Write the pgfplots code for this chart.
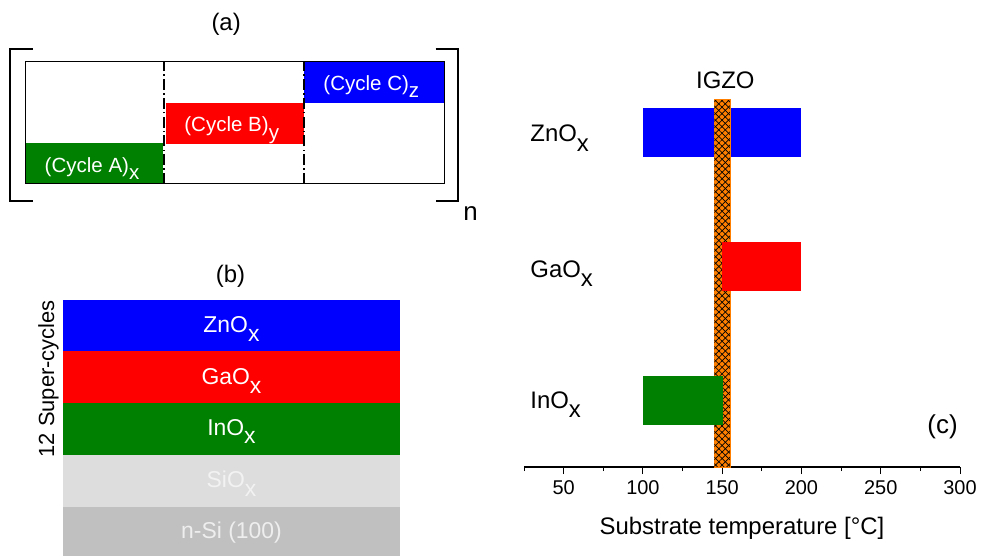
\documentclass[border=0pt]{standalone}
\usepackage{fontspec}
\setmainfont{Liberation Sans}
\usepackage{pgfplots}
\pgfplotsset{compat=1.18}
\usetikzlibrary{patterns.meta}
\definecolor{cBlue}{RGB}{0,0,255}
\definecolor{cRed}{RGB}{255,0,0}
\definecolor{cGreen}{RGB}{0,128,0}
\definecolor{cOrange}{RGB}{255,128,0}
\definecolor{cSiO}{RGB}{221,221,221}
\definecolor{cSi}{RGB}{192,192,192}
\newcommand{\sub}[1]{\raisebox{-0.38em}{#1}}
\newcommand{\fs}[1]{\fontsize{#1}{#1}\selectfont}
\begin{document}
\begin{tikzpicture}
\path[use as bounding box] (0,0) rectangle (491bp,278bp);

% ---------------- (a) ----------------
\begin{axis}[at={(12.5bp,186bp)}, anchor=south west, scale only axis,
  width=209.5bp, height=61bp, xmin=0, xmax=3, ymin=0, ymax=3,
  hide axis, clip=false]
\addplot[fill=cGreen, draw=none] coordinates {(0,0) (0.99,0) (0.99,1) (0,1)};
\addplot[fill=cRed, draw=none] coordinates {(1.01,0.98) (2.0,0.98) (2.0,2.0) (1.01,2.0)};
\addplot[fill=cBlue, draw=none] coordinates {(2.0,2.0) (3,2.0) (3,3) (2.0,3)};
\addplot[black, line width=0.5bp] coordinates {(0,0) (3,0) (3,3) (0,3) (0,0)};
\addplot[black, line width=1bp, dash pattern=on 5.5bp off 1.6bp on 0.7bp off 1.6bp] coordinates {(0.995,0) (0.995,3)};
\addplot[black, line width=1bp, dash pattern=on 5.5bp off 1.6bp on 0.7bp off 1.6bp] coordinates {(2.0,0) (2.0,3)};
\addplot[black, line width=0.7bp] coordinates {(0.057,3.32) (-0.107,3.32) (-0.107,-0.42) (0.057,-0.42)};
\addplot[black, line width=0.7bp] coordinates {(2.94,3.32) (3.10,3.32) (3.10,-0.42) (2.94,-0.42)};
\node[anchor=base, text=white, font=\fs{10.3}] at (axis cs:0.48,0.29) {(Cycle A)\sub{x}};
\node[anchor=base, text=white, font=\fs{10.3}] at (axis cs:1.48,1.28) {(Cycle B)\sub{y}};
\node[anchor=base, text=white, font=\fs{10.3}] at (axis cs:2.48,2.31) {(Cycle C)\sub{z}};
\node[anchor=center, font=\fs{13}] at (axis cs:3.19,-0.72) {n};
\node[anchor=center, font=\fs{12}] at (axis cs:1.44,3.92) {(a)};
\end{axis}

% ---------------- (b) ----------------
\begin{axis}[at={(31.5bp,0bp)}, anchor=south west, scale only axis,
  width=168.5bp, height=128bp, xmin=0, xmax=1, ymin=0, ymax=5,
  hide axis, clip=false]
\addplot[fill=cSi, draw=none] coordinates {(0,0) (1,0) (1,0.96) (0,0.96)};
\addplot[fill=cSiO, draw=none] coordinates {(0,0.96) (1,0.96) (1,1.97) (0,1.97)};
\addplot[fill=cGreen, draw=none] coordinates {(0,1.97) (1,1.97) (1,2.99) (0,2.99)};
\addplot[fill=cRed, draw=none] coordinates {(0,2.99) (1,2.99) (1,4.0) (0,4.0)};
\addplot[fill=cBlue, draw=none] coordinates {(0,4.0) (1,4.0) (1,5.0) (0,5.0)};
\node[anchor=base, text=white, font=\fs{11.5}] at (axis cs:0.5,4.36) {ZnO\sub{x}};
\node[anchor=base, text=white, font=\fs{11.5}] at (axis cs:0.5,3.34) {GaO\sub{x}};
\node[anchor=base, text=white, font=\fs{11.5}] at (axis cs:0.5,2.36) {InO\sub{x}};
\node[anchor=base, text={rgb,255:red,242;green,242;blue,242}, font=\fs{11.5}] at (axis cs:0.5,1.33) {SiO\sub{x}};
\node[anchor=base, text={rgb,255:red,238;green,238;blue,238}, font=\fs{11.5}] at (axis cs:0.5,0.35) {n-Si (100)};
\node[rotate=90, anchor=center, font=\fs{11}] at (axis cs:-0.043,3.46) {12 Super-cycles};
\node[anchor=center, font=\fs{12}] at (axis cs:0.497,5.47) {(b)};
\end{axis}

% ---------------- (c) ----------------
\begin{axis}[at={(262bp,44.5bp)}, anchor=south west, scale only axis,
  width=218bp, height=203.5bp, xmin=25, xmax=300, ymin=0.5, ymax=3.543,
  axis x line*=bottom, axis y line=none, clip=false,
  xtick={50,100,150,200,250,300}, minor xtick={25,75,125,175,225,275},
  tick align=outside, major tick length=3.5bp, minor tick length=2bp,
  every tick/.style={black, line width=0.5bp},
  x axis line style={line width=0.6bp},
  /pgf/number format/assume math mode=true,
  tick label style={font=\fs{10}},
  xlabel={Substrate temperature [°C]},
  xlabel style={font=\fs{12}, at={(axis description cs:0.5,0)}, anchor=base, yshift=-33.5bp},
  ]
\addplot[fill=cBlue, draw=none] coordinates {(100,2.817) (200,2.817) (200,3.183) (100,3.183)};
\addplot[fill=cOrange, draw=cOrange, line width=0.4bp,
  postaction={pattern={Lines[angle=45,distance=2.3bp,line width=0.35bp]}},
  postaction={pattern={Lines[angle=-45,distance=2.3bp,line width=0.35bp]}}]
  coordinates {(145,0.5) (155,0.5) (155,3.25) (145,3.25)};
\addplot[fill=cRed, draw=none] coordinates {(150,1.817) (200,1.817) (200,2.183) (150,2.183)};
\addplot[fill=cGreen, draw=none] coordinates {(100,0.817) (150.5,0.817) (150.5,1.183) (100,1.183)};
\node[anchor=base west, inner sep=0pt, font=\fs{12}] at (axis cs:28.8,2.93) {ZnO\sub{x}};
\node[anchor=base west, inner sep=0pt, font=\fs{12}] at (axis cs:28.8,1.914) {GaO\sub{x}};
\node[anchor=base west, inner sep=0pt, font=\fs{12}] at (axis cs:28.8,0.936) {InO\sub{x}};
\node[anchor=base, font=\fs{13}] at (axis cs:289,0.75) {(c)};
\node[anchor=base, font=\fs{12}] at (axis cs:152,3.333) {IGZO};
\end{axis}
\end{tikzpicture}
\end{document}
